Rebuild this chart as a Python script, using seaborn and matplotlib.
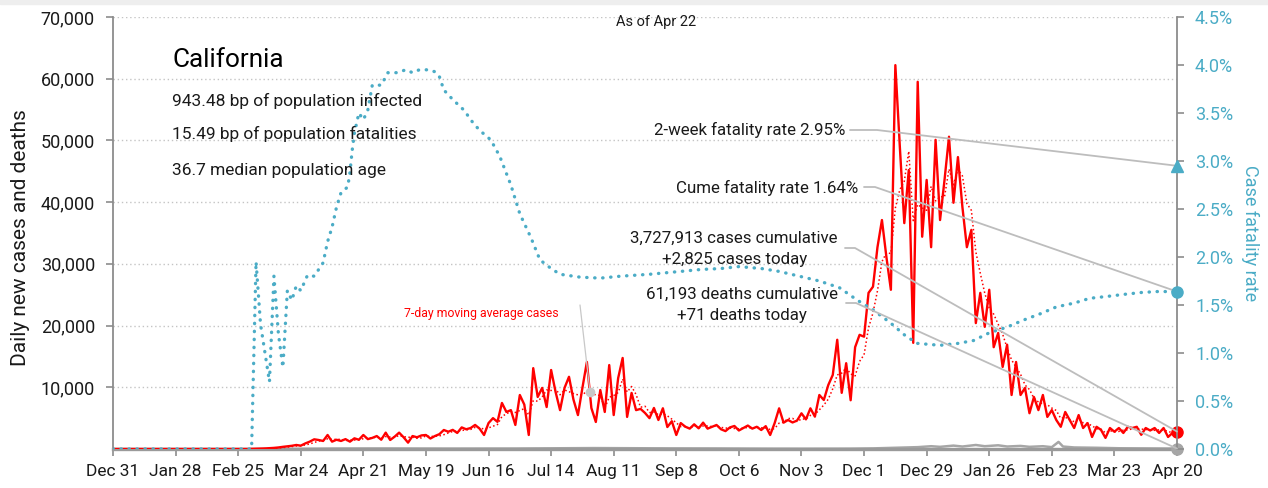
import numpy as np
import pandas as pd
import matplotlib
matplotlib.use('Agg')
import matplotlib.pyplot as plt
from matplotlib.patches import Rectangle
import seaborn as sns

# ---------------- data ----------------
start = pd.Timestamp('2019-12-31')

# daily new cases, one value every 2 days from Dec 31 2019 to Apr 20 2021
cases_winter = [0, 0, 0, 0, 0, 0, 0, 0, 0, 0, 0, 0, 0, 0, 0, 0,
                0, 0, 0, 0, 0, 0, 0, 0, 0, 0, 0, 0, 0, 0, 0]          # Dec 31 - Feb 29
cases_march = [20, 40, 60, 90, 130, 180, 250, 350, 430, 520, 650]     # Mar 2 - Mar 22
cases_spring = [540, 900, 1190, 1570, 1460, 1300, 2270, 1190, 1500, 1300,
                1600, 1190, 1730, 1500, 2270, 1600, 1800, 2100, 1500, 2650,
                1460, 2000, 2650, 1900, 1030, 2100, 1900, 2200, 2270, 1700,
                2100, 2400, 3080]                                     # Mar 24 - May 27
cases_summer = [2800, 3100, 2600, 3500, 3200, 3400, 3900, 3300, 2270, 4200,
                5000, 4400, 7460, 6000, 6300, 3900, 8750, 7200, 2270, 13100,
                8430, 9900, 6800, 12800, 9240, 6300, 9900, 11700, 8000, 5500,
                9900, 14100, 6650, 4380, 9560, 6000, 13600, 5500, 11500, 14750,
                5200, 9080, 6300, 6500, 5840, 5000, 6650, 4700, 6600, 3560,
                4500, 2270, 4200, 3620, 3300, 4000, 3350, 4270, 3300, 3600,
                3890, 3200, 2900, 3500, 3730, 3000, 3400, 3800, 3300, 3600,
                3080, 3700, 2270, 4200, 6590, 4270, 4700, 4300, 4600, 5780,
                4800, 6590, 5240, 8750, 7940, 10370, 12000]           # May 29 - Nov 17
cases_winter2 = [17700, 9100, 13900, 7900, 16500, 18500, 18200, 25300, 26300, 32700,
                 37100, 31100, 25800, 62200, 49000, 36600, 45200, 17200, 59500, 34400,
                 43600, 32700, 50100, 37100, 43600, 50600, 39900, 47300, 39200, 32700,
                 35500, 20400, 25300, 19800, 25800, 16500, 18800, 13300, 16900, 8750,
                 14100, 8750, 9900, 5800, 8430, 6300, 8750, 5200, 6300, 4700,
                 3600, 6000, 4700, 3400, 5500, 3400, 4200, 1950, 3600, 3100,
                 1800, 3400, 2800, 3400, 2600, 3600, 3400, 3600, 2300, 3400,
                 3000, 3400, 2600, 3400, 1950, 2600, 2825]            # Nov 19 - Apr 20

# daily deaths (day offset from Dec 31 2019, value)
death_day = [0, 60, 70, 84, 100, 120, 150, 180, 200, 215, 230, 250, 270, 290, 310,
             330, 340, 350, 360, 366, 370, 376, 380, 386, 390, 396, 400, 406, 410,
             416, 420, 423, 425, 430, 440, 450, 460, 470, 476]
death_values = [0, 0, 5, 40, 80, 90, 70, 80, 120, 150, 130, 100, 90, 60, 50,
                60, 100, 200, 300, 450, 350, 550, 400, 650, 450, 600, 400, 500, 350,
                450, 300, 1150, 400, 250, 200, 120, 100, 80, 71]

# case fatality rate in % (day offset, value)
cfr_day = [0, 62, 64, 66, 68, 70, 72, 74, 76, 78, 80, 82, 84, 87, 90, 94, 96, 98,
           100, 102, 105, 106, 107, 108, 110, 112, 114, 116, 120, 123, 127, 131,
           134, 137, 141, 144, 146, 148, 152, 157, 161, 164, 169, 173, 178, 182,
           187, 191, 196, 200, 209, 218, 227, 240, 254, 263, 272, 280, 290, 298,
           307, 316, 325, 333, 340, 348, 355, 360, 370, 378, 385, 392, 400, 407,
           415, 422, 430, 437, 445, 452, 460, 467, 476]
cfr_values = [0, 0, 1.95, 1.3, 1.0, 0.7, 1.8, 1.2, 0.85, 1.65, 1.55, 1.7, 1.65, 1.81,
              1.8, 1.94, 2.16, 2.31, 2.52, 2.67, 2.73, 2.88, 3.11, 3.29, 3.5, 3.43,
              3.53, 3.79, 3.79, 3.92, 3.92, 3.95, 3.92, 3.95, 3.95, 3.93, 3.88, 3.74,
              3.64, 3.53, 3.4, 3.32, 3.22, 3.05, 2.75, 2.45, 2.2, 1.97, 1.88, 1.82,
              1.79, 1.78, 1.8, 1.82, 1.85, 1.87, 1.88, 1.9, 1.88, 1.85, 1.8, 1.75,
              1.68, 1.55, 1.45, 1.31, 1.17, 1.1, 1.08, 1.1, 1.13, 1.21, 1.27, 1.34,
              1.41, 1.48, 1.52, 1.57, 1.59, 1.61, 1.63, 1.64, 1.64]

two_week_cfr = 2.95
cume_cfr = 1.64
cases_today = 2825
deaths_today = 71

tick_labels = ['Dec 31', 'Jan 28', 'Feb 25', 'Mar 24', 'Apr 21', 'May 19', 'Jun 16',
               'Jul 14', 'Aug 11', 'Sep 8', 'Oct 6', 'Nov 3', 'Dec 1', 'Dec 29',
               'Jan 26', 'Feb 23', 'Mar 23', 'Apr 20']
left_ticks = [10000, 20000, 30000, 40000, 50000, 60000, 70000]
right_ticks = [0, 0.5, 1.0, 1.5, 2.0, 2.5, 3.0, 3.5, 4.0, 4.5]

# ---------------- build frames ----------------
case_values = cases_winter + cases_march + cases_spring + cases_summer + cases_winter2
df = pd.DataFrame({'date': pd.date_range(start, periods=len(case_values), freq='2D'),
                   'cases': case_values})
df['ma'] = df['cases'].rolling(4, min_periods=1).mean()   # ~7 trailing days
deaths = pd.DataFrame({'date': start + pd.to_timedelta(death_day, unit='D'),
                       'deaths': death_values})
cfr = pd.DataFrame({'date': start + pd.to_timedelta(cfr_day, unit='D'), 'cfr': cfr_values})
end = df['date'].iloc[-1]
tick_dates = pd.date_range(start, periods=len(tick_labels), freq='28D')

# ---------------- style ----------------
sns.set_theme(style='white')
plt.rcParams['font.family'] = ['Roboto', 'DejaVu Sans']

RED = '#ff0000'
BLUE = '#4bacc6'
GRAY = '#a6a6a6'
AXGRAY = '#8c8c8c'
TXT = '#1a1a1a'

W, H = 1268, 488
fig = plt.figure(figsize=(W / 100, H / 100), dpi=100)
fig.patches.append(Rectangle((0, 1 - 4 / H), 1, 4 / H, transform=fig.transFigure,
                             color='#eeeeee', zorder=0))
ax = fig.add_axes([113 / W, 39 / H, 1064 / W, 432 / H])
ax2 = ax.twinx()


def pt(x, y):
    """pixel position in the reference -> (date, cases) data position"""
    return start + pd.Timedelta(days=(x - 113) / 2.2353), (449 - y) * 70000 / 432


# ---------------- series ----------------
sns.lineplot(data=deaths, x='date', y='deaths', ax=ax, color=GRAY, linewidth=1.8,
             zorder=2)
sns.lineplot(data=df, x='date', y='cases', ax=ax, color=RED, linewidth=1.7, zorder=3)
sns.lineplot(data=df, x='date', y='ma', ax=ax, color=RED, linewidth=1.1,
             linestyle=(0, (1, 1.6)), zorder=4)
sns.lineplot(data=cfr, x='date', y='cfr', ax=ax2, color=BLUE, linewidth=2.4,
             linestyle=(0, (0.1, 2.3)), dash_capstyle='round', zorder=3)

# end markers
ax.plot([end], [cases_today], 'o', color=RED, ms=8, clip_on=False, zorder=6)
ax.plot([end], [deaths_today], 'o', color=GRAY, ms=8, clip_on=False, zorder=6)
ax2.plot([end], [two_week_cfr], '^', color=BLUE, ms=9, clip_on=False, zorder=6)
ax2.plot([end], [cume_cfr], 'o', color=BLUE, ms=8, clip_on=False, zorder=6)

# ---------------- axes ----------------
ax.set_xlim(start, end)
ax.set_ylim(0, 70000)
ax2.set_ylim(0, 4.5)
ax.set_xticks(tick_dates)
ax.set_xticklabels(tick_labels)
ax.set_yticks(left_ticks)
ax.set_yticklabels([f'{v:,}' for v in left_ticks])
ax2.set_yticks(right_ticks)
ax2.set_yticklabels([f'{v:.1f}%' for v in right_ticks])
ax.set_xlabel('')
ax.set_ylabel('Daily new cases and deaths', fontsize=15, color=TXT)
ax.yaxis.set_label_coords(-0.078, 0.49)
ax2.set_ylabel('Case fatality rate', fontsize=13, color=BLUE, rotation=270, va='center')
ax2.yaxis.set_label_coords(1.0685, 0.5)

ax.tick_params(axis='x', direction='out', length=5, width=1.2, color=AXGRAY,
               labelsize=12.5, labelcolor=TXT, pad=6, bottom=True)
ax.tick_params(axis='y', direction='out', length=5, width=1.2, color=AXGRAY,
               labelsize=13, labelcolor=TXT, pad=8, left=True)
ax2.tick_params(axis='y', direction='out', length=5, width=1.2, color=AXGRAY,
                labelsize=13, labelcolor=BLUE, pad=8, right=True)

ax.set_axisbelow(True)
ax.yaxis.grid(True, color='#c4c4c4', linestyle=(0, (1, 2)), linewidth=1)
ax.xaxis.grid(False)
ax2.grid(False)
for s in ['top', 'right']:
    ax.spines[s].set_visible(False)
for s in ['top', 'left', 'bottom']:
    ax2.spines[s].set_visible(False)
ax.spines['left'].set_color(AXGRAY)
ax.spines['left'].set_linewidth(1.3)
ax.spines['bottom'].set_color('#9a9a9a')
ax.spines['bottom'].set_linewidth(2.4)
ax2.spines['right'].set_color(AXGRAY)
ax2.spines['right'].set_linewidth(1.3)

# ---------------- annotations ----------------
lead = dict(color='#bdbdbd', linewidth=1.3, zorder=5, clip_on=False,
            transform=ax.transData)
y_2wk = two_week_cfr / 4.5 * 70000
y_cume = cume_cfr / 4.5 * 70000
for (x0, y0), (x1, _), yend in [((850, 130), (877, 130), y_2wk),
                                ((864, 187), (875, 187), y_cume),
                                ((845, 248), (855, 248), cases_today),
                                ((846, 303), (856, 303), deaths_today)]:
    a = pt(x0, y0)
    b = pt(x1, y0)
    ax2.plot([a[0], b[0], end], [a[1], b[1], yend], **lead)

txt = dict(fontsize=12.2, color=TXT, va='center', zorder=7)
ax.text(*pt(845, 130), f'2-week fatality rate {two_week_cfr:.2f}%', ha='right', **txt)
ax.text(*pt(858, 188), f'Cume fatality rate {cume_cfr:.2f}%', ha='right', **txt)
ax.text(*pt(838, 249), f'3,727,913 cases cumulative\n+{cases_today:,} cases today',
        ha='right', multialignment='center', linespacing=1.45, **txt)
ax.text(*pt(838, 305), f'61,193 deaths cumulative\n+{deaths_today} deaths today',
        ha='right', multialignment='center', linespacing=1.45, **txt)

# moving-average label with its leader
a, b = pt(580, 305), pt(590, 392)
ax2.plot([a[0], b[0]], [a[1], b[1]], color='#c8c8c8', linewidth=0.9,
         transform=ax.transData, zorder=5)
ax2.plot([b[0]], [b[1]], 'o', color='#c8c8c8', ms=6, transform=ax.transData, zorder=5)
ax.text(*pt(559, 314), '7-day moving average cases', ha='right', va='center',
        fontsize=8.8, color=RED)

fig.text(656 / W, 1 - 22 / H, 'As of Apr 22', ha='center', va='center',
         fontsize=10.5, color=TXT)
fig.text(172 / W, 1 - 60 / H, 'California', ha='left', va='center', fontsize=18.8,
         color='black')
for y, s in [(101, '943.48 bp of population infected'),
             (134, '15.49 bp of population fatalities'),
             (170, '36.7 median population age')]:
    fig.text(172 / W, 1 - y / H, s, ha='left', va='center', fontsize=12.5, color=TXT)

fig.savefig('out.png', dpi=100)
